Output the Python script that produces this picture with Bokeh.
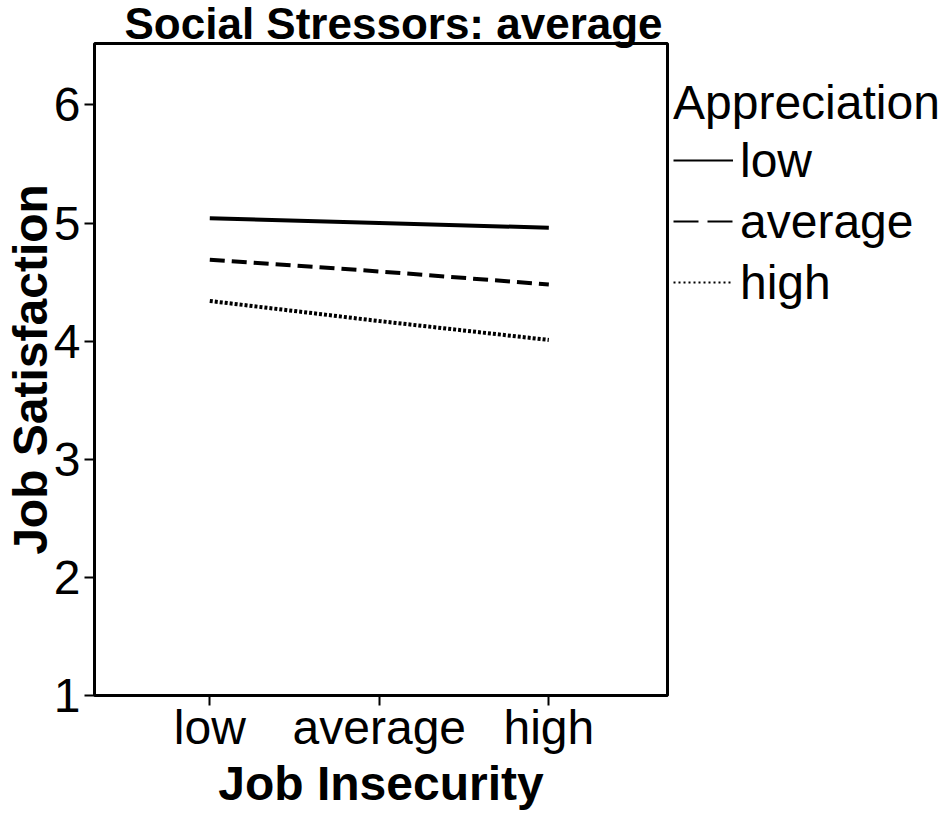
from bokeh.plotting import figure
from bokeh.layouts import row
from bokeh.models import Range1d, FixedTicker, Legend, LegendItem
from bokeh.embed import file_html
from bokeh.resources import INLINE

# ---------------- data ----------------
categories = ["low", "average", "high"]          # Job Insecurity levels
series_names = ["low", "average", "high"]        # Appreciation levels
sat_low = [5.04, 5.00, 4.96]
sat_average = [4.69, 4.59, 4.48]
sat_high = [4.34, 4.17, 4.01]
y_ticks = [1, 2, 3, 4, 5, 6]

title_text = "Social Stressors: average"
x_title = "Job Insecurity"
y_title = "Job Satisfaction"
legend_title = "Appreciation"

# ---------------- layout ----------------
FONT = "Liberation Sans"
H = 812
W1, W2 = 670, 275
X0, X1 = 0.32, 3.70
Y0, Y1 = 1.0, 6.52

p = figure(width=W1, height=H, output_backend="svg", toolbar_location=None,
           x_range=Range1d(X0, X1), y_range=Range1d(Y0, Y1),
           min_border_left=87, min_border_right=3,
           min_border_top=0, min_border_bottom=0)
p.background_fill_color = "white"
p.border_fill_color = "white"
p.outline_line_color = "black"
p.outline_line_width = 3
p.xgrid.visible = False
p.ygrid.visible = False

p.title.text = title_text
p.title.text_font = FONT
p.title.text_font_size = "44px"
p.title.text_font_style = "bold"
p.title.text_color = "black"
p.title.align = "left"
p.title.offset = 30
p.title.standoff = -8

xpos = [i + 1 for i in range(len(categories))]

for ax in (p.xaxis[0], p.yaxis[0]):
    ax.axis_line_color = None
    ax.major_tick_line_color = "black"
    ax.major_tick_line_width = 2
    ax.major_tick_out = 10
    ax.major_tick_in = 0
    ax.minor_tick_line_color = None
    ax.major_label_text_font = FONT
    ax.major_label_text_font_size = "48px"
    ax.major_label_text_color = "black"
    ax.axis_label_text_font = FONT
    ax.axis_label_text_font_style = "bold"
    ax.axis_label_text_color = "black"

p.xaxis.ticker = FixedTicker(ticks=xpos)
p.xaxis.major_label_overrides = {x: c for x, c in zip(xpos, categories)}
p.xaxis.major_label_standoff = -5
p.xaxis.axis_label = x_title
p.xaxis.axis_label_text_font_size = "48px"
p.xaxis.axis_label_standoff = 0

p.yaxis.ticker = FixedTicker(ticks=y_ticks)
p.yaxis.major_label_standoff = 4
p.yaxis.axis_label = y_title
p.yaxis.axis_label_text_font_size = "48px"
p.yaxis.axis_label_standoff = -6

styles = [("solid", "solid"), ("15 7", "25 9"), ("3 2", "2 3")]
series = [sat_low, sat_average, sat_high]

for vals, (dash, _) in zip(series, styles):
    p.line(x=xpos, y=vals, line_color="black", line_width=4, line_dash=dash)

# ---------------- legend panel ----------------
q = figure(width=W2, height=H, output_backend="svg", toolbar_location=None,
           x_range=Range1d(X0, X1), y_range=Range1d(Y0, Y1),
           x_axis_location=None, y_axis_location=None,
           min_border_left=0, min_border_right=0,
           min_border_top=0, min_border_bottom=0)
q.outline_line_color = None
q.background_fill_color = "white"
q.border_fill_color = "white"
for g in q.grid:
    g.visible = False

items = []
for name, vals, (_, ldash) in zip(series_names, series, styles):
    proxy = q.line(x=xpos, y=vals, line_color="black", line_width=2,
                   line_dash=ldash, visible=False)
    items.append(LegendItem(label=name, renderers=[proxy]))

legend = Legend(items=items, title=legend_title,
                location=(3, 383),
                padding=0, margin=0, spacing=1,
                label_height=60, glyph_width=60, glyph_height=20,
                label_standoff=7, title_standoff=0,
                border_line_color=None, background_fill_alpha=0,
                label_text_font=FONT, label_text_font_size="48px",
                label_text_color="black",
                title_text_font=FONT, title_text_font_size="48px",
                title_text_font_style="normal", title_text_color="black")
q.add_layout(legend)

layout = row(p, q, spacing=0)
open("out.html", "w").write(file_html(layout, INLINE))
